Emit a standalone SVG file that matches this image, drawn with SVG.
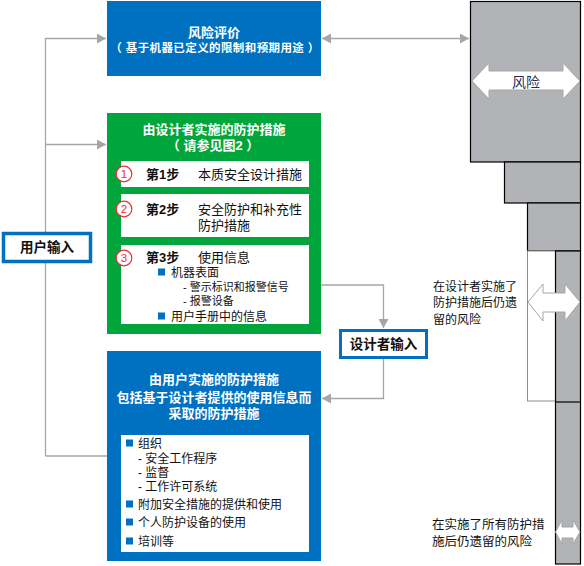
<svg xmlns="http://www.w3.org/2000/svg" width="584" height="566" viewBox="0 0 584 566">
<defs>
<marker id="ah" markerWidth="10" markerHeight="10" refX="9" refY="5" orient="auto" markerUnits="userSpaceOnUse">
<path d="M0,0 L9,5 L0,10 Z" fill="#a6a6a6"/>
</marker>
<marker id="ahs" markerWidth="10" markerHeight="10" refX="9" refY="5" orient="auto-start-reverse" markerUnits="userSpaceOnUse">
<path d="M0,0 L9,5 L0,10 Z" fill="#a6a6a6"/>
</marker>
</defs>
<style>
text{font-family:"Liberation Sans","Noto Sans CJK SC",sans-serif}
.wt{fill:#fff;font-weight:bold;font-size:13px;text-anchor:middle}
.t13{font-size:13px;fill:#111}
.t12{font-size:12px;fill:#111}
.t11{font-size:11px;fill:#111}
.b{font-weight:bold}
.ln{fill:none;stroke:#a6a6a6;stroke-width:1.3}
.blue{fill:#0070c0}
.green{fill:#00a63c}
.wb{fill:#fff}
.bul{fill:#0070c0}
.circ{fill:#fff;stroke:#e8313a;stroke-width:1.2}
.cn{fill:#e8313a;font-size:11.5px;text-anchor:middle}
.bar{fill:#b1b3b6;stroke:#000;stroke-width:1.2}
.dar{fill:#fff;stroke:#a6a6a6;stroke-width:1}
</style>

<g id="connectors">
<path class="ln" d="M45.5,456 L45.5,38.5 L106,38.5" marker-end="url(#ah)"/>
<path class="ln" d="M45.5,144.5 L106,144.5" marker-end="url(#ah)"/>
<path class="ln" d="M45.5,456 L107,456"/>
<path class="ln" d="M322,38.5 L469,38.5" marker-start="url(#ahs)" marker-end="url(#ah)"/>
<path class="ln" d="M321,285 L383.5,285 L383.5,328" marker-end="url(#ah)"/>
<path class="ln" d="M383.5,358 L383.5,398.5 L322,398.5" marker-end="url(#ah)"/>
</g>

<g id="risk-assessment">
<rect class="blue" x="107" y="1" width="214" height="75"/>
<text class="wt" x="214" y="37">风险评价</text>
<text class="wt" x="215" y="52" style="font-size:11.5px;letter-spacing:0.4px">（ 基于机器已定义的限制和预期用途 ）</text>
</g>

<g id="designer-measures">
<rect class="green" x="107" y="113" width="214" height="221"/>
<text class="wt" x="214" y="134">由设计者实施的防护措施</text>
<text class="wt" x="213" y="150">（ 请参见图2 ）</text>
<rect class="wb" x="121" y="161" width="188" height="26"/>
<rect class="wb" x="121" y="194" width="188" height="43"/>
<rect class="wb" x="121" y="245" width="188" height="79"/>
<circle class="circ" cx="124" cy="174" r="7.8"/>
<text class="cn" x="124" y="178">1</text>
<circle class="circ" cx="124" cy="209" r="7.8"/>
<text class="cn" x="124" y="213">2</text>
<circle class="circ" cx="124" cy="258" r="7.8"/>
<text class="cn" x="124" y="262">3</text>
<text class="t13 b" x="146" y="179">第1步</text>
<text class="t13" x="198" y="179">本质安全设计措施</text>
<text class="t13 b" x="146" y="214">第2步</text>
<text class="t13" x="198" y="214">安全防护和补充性</text>
<text class="t13" x="198" y="230">防护措施</text>
<text class="t13 b" x="146" y="262">第3步</text>
<text class="t13" x="198" y="262">使用信息</text>
<rect class="bul" x="158" y="268.5" width="7" height="7"/>
<text class="t12" x="171" y="276.5">机器表面</text>
<text class="t11" x="183" y="290.5">- 警示标识和报警信号</text>
<text class="t11" x="183" y="305">- 报警设备</text>
<rect class="bul" x="158" y="312.5" width="7" height="7"/>
<text class="t12" x="171" y="320.5">用户手册中的信息</text>
</g>

<g id="user-input">
<rect x="3.5" y="233.5" width="87" height="28" fill="#fff" stroke="#0070c0" stroke-width="3.5"/>
<text class="b" x="47" y="252" style="font-size:13.5px;text-anchor:middle;fill:#111">用户输入</text>
</g>

<g id="designer-input">
<rect x="340.5" y="330.5" width="86" height="27" fill="#fff" stroke="#0070c0" stroke-width="3"/>
<text class="b" x="383.5" y="349" style="font-size:13.5px;text-anchor:middle;fill:#111">设计者输入</text>
</g>

<g id="user-measures">
<rect class="blue" x="107" y="351" width="214" height="210"/>
<text class="wt" x="214" y="384">由用户实施的防护措施</text>
<text class="wt" x="214" y="402">包括基于设计者提供的使用信息而</text>
<text class="wt" x="214" y="418">采取的防护措施</text>
<rect class="wb" x="121" y="435" width="188" height="117"/>
<rect class="bul" x="126" y="439.5" width="7" height="7"/>
<text class="t12" x="138" y="447.5">组织</text>
<text class="t12" x="138" y="462.5">- 安全工作程序</text>
<text class="t12" x="138" y="477">- 监督</text>
<text class="t12" x="138" y="491">- 工作许可系统</text>
<rect class="bul" x="126" y="500.5" width="7" height="7"/>
<text class="t12" x="138" y="508.5">附加安全措施的提供和使用</text>
<rect class="bul" x="126" y="518.5" width="7" height="7"/>
<text class="t12" x="138" y="526.5">个人防护设备的使用</text>
<rect class="bul" x="126" y="537.5" width="7" height="7"/>
<text class="t12" x="138" y="545.5">培训等</text>
</g>

<g id="risk-bars">
<rect class="bar" x="470.5" y="1.5" width="110" height="160.5"/>
<rect class="bar" x="504.5" y="162" width="76" height="41"/>
<rect class="bar" x="527.5" y="203" width="53" height="48"/>
<rect x="527.5" y="251" width="28" height="150" fill="#fff" stroke="#8c8c8c" stroke-width="1"/>
<rect class="bar" x="555.5" y="251" width="25" height="313"/>
<line x1="555.5" y1="402" x2="580.5" y2="402" stroke="#000" stroke-width="1.2"/>
</g>

<g id="risk-label">
<path class="dar" d="M472,81 L489,63 L489,71 L563,71 L563,63 L580,81 L563,99 L563,90 L489,90 L489,99 Z"/>
<text x="526" y="87" style="font-size:14px;fill:#1f2d5a;text-anchor:middle">风险</text>
</g>

<g id="residual-designer">
<path class="dar" d="M528,302 L543,284 L543,293 L565,293 L565,284 L580,302 L565,321 L565,312 L543,312 L543,321 Z"/>
<text class="t12" x="433" y="291">在设计者实施了</text>
<text class="t12" x="433" y="307">防护措施后仍遗</text>
<text class="t12" x="433" y="324">留的风险</text>
</g>

<g id="residual-all">
<path class="dar" d="M555.5,532 L562,520 L562,527 L573,527 L573,520 L580,532 L573,544 L573,538 L562,538 L562,544 Z"/>
<text x="432" y="529" style="font-size:12.5px;fill:#111">在实施了所有防护措</text>
<text x="432" y="546" style="font-size:12.5px;fill:#111">施后仍遗留的风险</text>
</g>
</svg>
